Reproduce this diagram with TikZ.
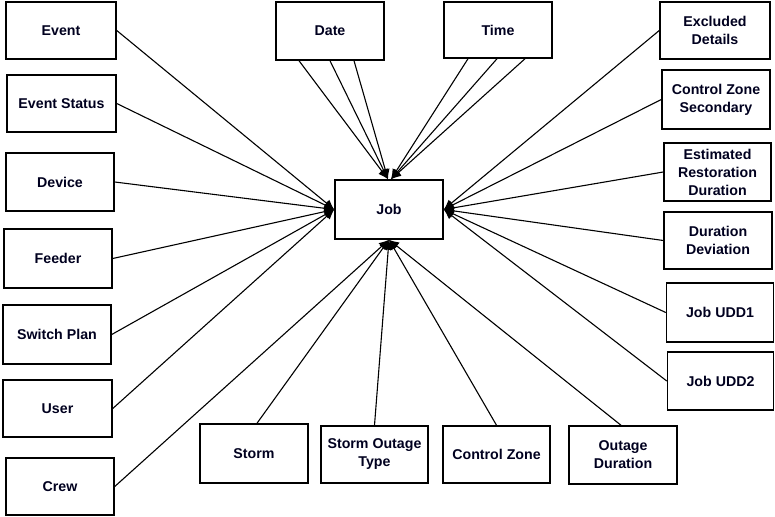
\documentclass[tikz,border=0pt]{standalone}
\usepackage{fontspec}
\setmainfont{Liberation Sans}
\usetikzlibrary{arrows.meta,calc}
\begin{document}
\begin{tikzpicture}[x=1pt,y=-1pt,
  ent/.style={draw=black,line width=1.5pt,fill=white,align=center,inner sep=0pt,
    font=\fontsize{14.2pt}{18pt}\selectfont\bfseries,text=black!88!blue},
  link/.style={draw=black,line width=1.1pt,-{Latex[length=10pt,width=9pt]}}]
\useasboundingbox (0,0) rectangle (775,516);
% central
\node[ent,minimum width=108pt,minimum height=59pt] (job) at (389,209.5) {Job};
% left column
\node[ent,minimum width=110pt,minimum height=57pt] (event) at (61,30.5) {Event};
\node[ent,minimum width=109pt,minimum height=57pt] (evstat) at (61.5,103.5) {Event Status};
\node[ent,minimum width=108pt,minimum height=58pt] (device) at (60,182) {Device};
\node[ent,minimum width=108pt,minimum height=59pt] (feeder) at (58,258.5) {Feeder};
\node[ent,minimum width=108pt,minimum height=59pt] (swplan) at (57,334.5) {Switch Plan};
\node[ent,minimum width=109pt,minimum height=57pt] (user) at (57.5,408.5) {User};
\node[ent,minimum width=108pt,minimum height=57pt] (crew) at (60,486.5) {Crew};
% top
\node[ent,minimum width=108pt,minimum height=58pt] (date) at (330,31) {Date};
\node[ent,minimum width=108pt,minimum height=56pt] (time) at (498,30) {Time};
% right column
\node[ent,minimum width=110pt,minimum height=57pt] (excl) at (715,30.5) {Excluded\\Details};
\node[ent,minimum width=108pt,minimum height=59pt] (czs) at (716,99.5) {Control Zone\\Secondary};
\node[ent,minimum width=107pt,minimum height=58pt] (erd) at (717.5,172) {Estimated\\Restoration\\Duration};
\node[ent,minimum width=108pt,minimum height=57pt] (dd) at (718,240.5) {Duration\\Deviation};
\node[ent,minimum width=107pt,minimum height=59pt] (udd1) at (720,312.5) {Job UDD1};
\node[ent,minimum width=106pt,minimum height=58pt] (udd2) at (720.5,381) {Job UDD2};
% bottom
\node[ent,minimum width=108pt,minimum height=59pt] (storm) at (254,453.5) {Storm};
\node[ent,minimum width=107pt,minimum height=57pt] (sot) at (374.5,454.5) {Storm Outage\\Type};
\node[ent,minimum width=107pt,minimum height=57pt] (cz) at (496.5,454.5) {Control Zone};
\node[ent,minimum width=108pt,minimum height=58pt] (od) at (623,455) {Outage\\Duration};
% connectors: left
\foreach \n in {event,evstat,device,feeder,swplan,user}
  \draw[link] (\n.east) -- (job.west);
% top
\draw[link] ([xshift=-31pt]date.south) -- ([xshift=-1pt]job.north);
\draw[link] (date.south) -- ([xshift=-1pt]job.north);
\draw[link] ([xshift=24pt]date.south) -- ([xshift=-1pt]job.north);
\draw[link] ([xshift=-30pt]time.south) -- ([xshift=2pt]job.north);
\draw[link] ([xshift=-1pt]time.south) -- ([xshift=2pt]job.north);
\draw[link] ([xshift=27pt]time.south) -- ([xshift=2pt]job.north);
% right
\foreach \n in {excl,czs,erd,dd,udd1,udd2}
  \draw[link] (\n.west) -- (job.east);
% bottom
\draw[link] (crew.east) -- (job.south);
\draw[link] ([xshift=3pt]storm.north) -- (job.south);
\draw[link] (sot.north) -- (job.south);
\draw[link] (cz.north) -- (job.south);
\draw[link] ([xshift=-2pt]od.north) -- (job.south);
\end{tikzpicture}
\end{document}
